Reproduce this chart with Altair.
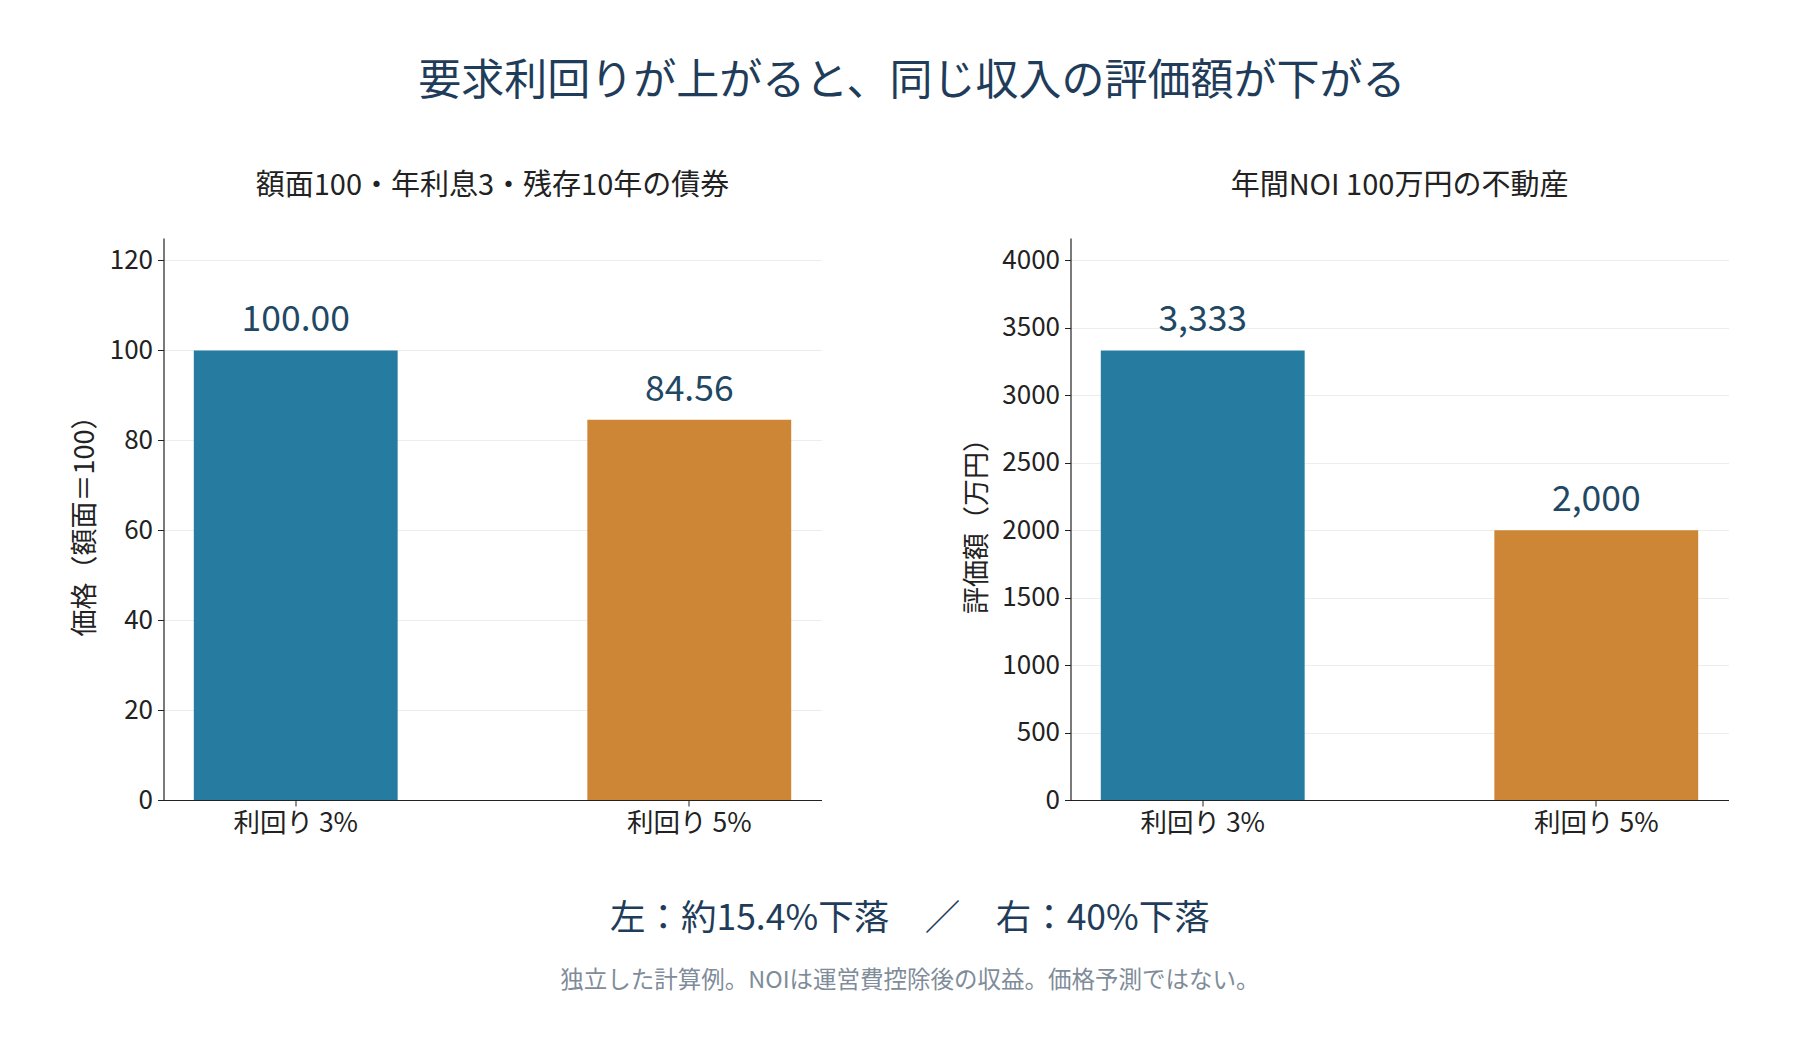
import altair as alt
import pandas as pd

FONT = "Noto Sans CJK JP"

categories = ["利回り 3%", "利回り 5%"]
bond_prices = [100.00, 84.56]
bond_labels = ["100.00", "84.56"]
property_values = [3333.33, 2000.0]
property_labels = ["3,333", "2,000"]
bar_colors = ["#257ca0", "#cd8636"]

main_title = "要求利回りが上がると、同じ収入の評価額が下がる"
left_title = "額面100・年利息3・残存10年の債券"
right_title = "年間NOI 100万円の不動産"
left_ytitle = "価格（額面＝100）"
right_ytitle = "評価額（万円）"
bottom_text = "左：約15.4%下落　／　右：40%下落"
footnote = "独立した計算例。NOIは運営費控除後の収益。価格予測ではない。"

left_ticks = [0, 20, 40, 60, 80, 100, 120]
right_ticks = [0, 500, 1000, 1500, 2000, 2500, 3000, 3500, 4000]
left_max = 125
right_max = 4166.67

TITLE_COLOR = "#1f3d5a"
LABEL_COLOR = "#1f4864"
TEXT_COLOR = "#222222"


def panel(values, labels, title, ytitle, ymax, ticks):
    df = pd.DataFrame({"cat": categories, "val": values, "label": labels})
    base = alt.Chart(df).encode(
        x=alt.X(
            "cat:N",
            sort=categories,
            scale=alt.Scale(paddingInner=0.482, paddingOuter=0.077),
            axis=alt.Axis(title=None, labelAngle=0, grid=False, labelFontSize=26.5,
                          labelPadding=4, tickSize=6),
        ),
        y=alt.Y(
            "val:Q",
            scale=alt.Scale(domain=[0, ymax], nice=False),
            axis=alt.Axis(title=ytitle, values=ticks, grid=True, labelFontSize=26,
                          titleFontSize=27, titlePadding=10, tickSize=6, labelPadding=5,
                          format="d"),
        ),
    )
    bars = base.mark_bar().encode(
        color=alt.Color("cat:N", scale=alt.Scale(domain=categories, range=bar_colors), legend=None)
    )
    text = base.mark_text(baseline="alphabetic", dy=-19, fontSize=35.5, color=LABEL_COLOR,
                          font=FONT).encode(text="label:N")
    return alt.layer(bars, text).properties(
        width=658, height=562,
        title=alt.TitleParams(title, fontSize=29, fontWeight="normal", color=TEXT_COLOR,
                              offset=37, anchor="middle", font=FONT),
    )


left = panel(bond_prices, bond_labels, left_title, left_ytitle, left_max, left_ticks)
right = panel(property_values, property_labels, right_title, right_ytitle, right_max, right_ticks)

inner = alt.hconcat(left, right, spacing=142).properties(
    title=alt.TitleParams(
        bottom_text, orient="bottom", anchor="middle", fontSize=35.5, fontWeight="normal",
        color=TITLE_COLOR, font=FONT, offset=65, dx=10,
        subtitle=footnote, subtitleFontSize=23.5, subtitleColor="#7f8c99",
        subtitleFont=FONT, subtitlePadding=32,
    )
)

chart = alt.vconcat(inner).properties(
    title=alt.TitleParams(main_title, fontSize=43, fontWeight="normal", color=TITLE_COLOR,
                          font=FONT, anchor="middle", offset=68, dx=12),
    padding={"left": 62.5, "top": 53, "right": 20, "bottom": 20},
).configure(
    font=FONT,
).configure_view(stroke=None).configure_axis(
    domainColor=TEXT_COLOR, tickColor=TEXT_COLOR, labelColor=TEXT_COLOR,
    titleColor=TEXT_COLOR, gridColor="#ededed", titleFontWeight="normal",
    labelFont=FONT, titleFont=FONT, domainWidth=1.2,
)

chart.save("out.html", embed_options={"renderer": "svg", "actions": False})
